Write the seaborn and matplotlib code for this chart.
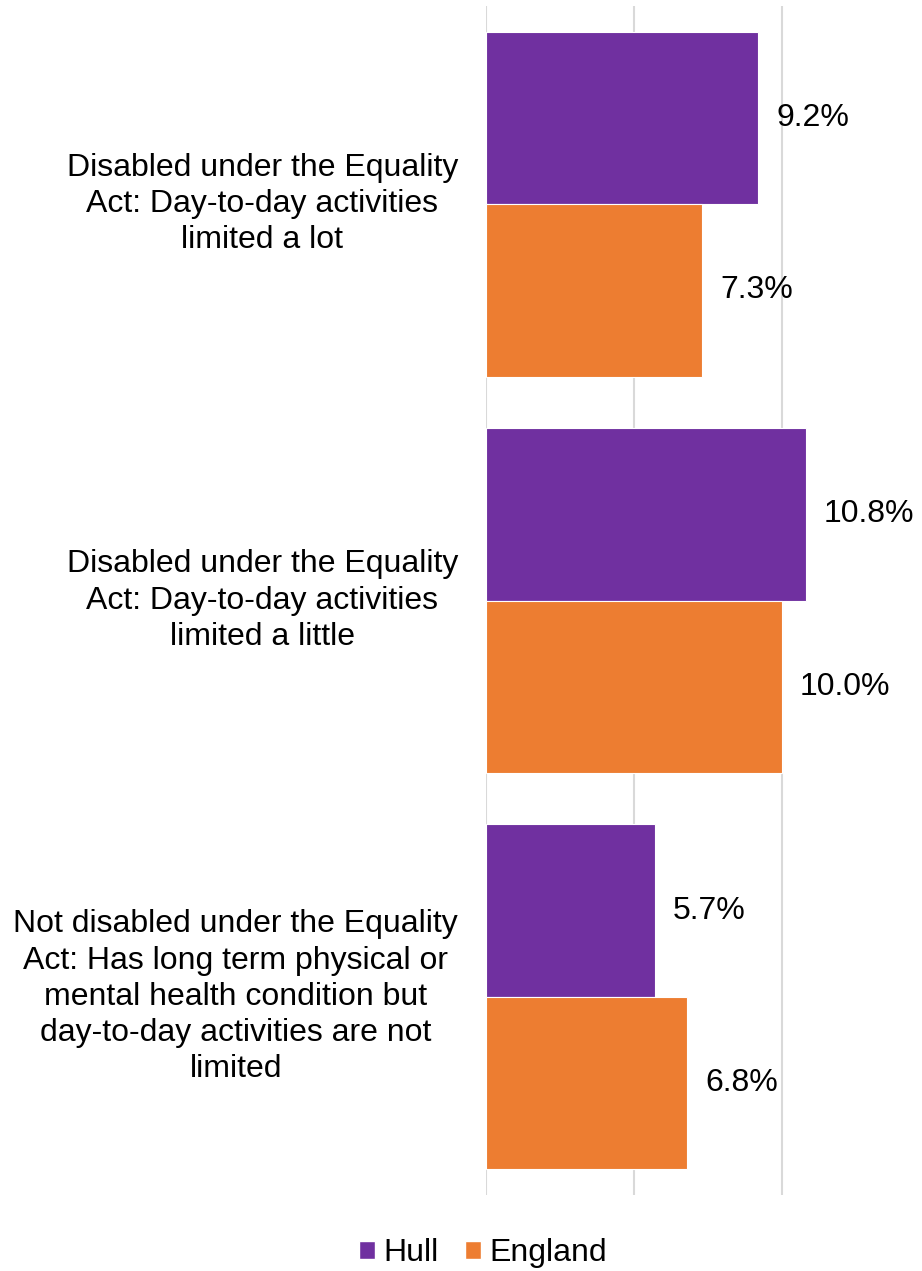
import pandas as pd
import matplotlib.pyplot as plt
import seaborn as sns
from matplotlib.patches import Patch

categories = [
    "Disabled under the Equality\nAct: Day-to-day activities\nlimited a lot",
    "Disabled under the Equality\nAct: Day-to-day activities\nlimited a little",
    "Not disabled under the Equality\nAct: Has long term physical or\nmental health condition but\nday-to-day activities are not\nlimited",
]
hull = [9.2, 10.8, 5.7]
england = [7.3, 10.0, 6.8]
series = ["Hull", "England"]
colors = {"Hull": "#7030A0", "England": "#ED7D31"}

df = pd.DataFrame({
    "category": categories * 2,
    "value": hull + england,
    "area": ["Hull"] * 3 + ["England"] * 3,
})

sns.set_theme(style="white")
plt.rcParams['font.family'] = ['Liberation Sans', 'DejaVu Sans']
plt.rcParams['text.color'] = '#000000'

fig = plt.figure(figsize=(9.22, 12.71), dpi=100)
ax = fig.add_axes([486 / 922, 76 / 1271, 1 - 486 / 922, 1189 / 1271])

sns.barplot(data=df, x="value", y="category", hue="area", hue_order=series,
            palette=colors, saturation=1, orient="h", width=0.87,
            edgecolor="white", linewidth=0.8, legend=False, ax=ax)

ax.set_xlim(0, 14.73)
ax.set_ylim(2.5, -0.5)
ax.set_xticks([0, 5, 10])
ax.xaxis.grid(True, color="#D9D9D9", linewidth=1.5)
ax.set_axisbelow(True)
ax.tick_params(axis="both", length=0, labelbottom=False, labelleft=False)
for s in ax.spines.values():
    s.set_visible(False)
ax.set_xlabel("")
ax.set_ylabel("")

for cont in ax.containers:
    ax.bar_label(cont, fmt="%.1f%%", padding=13, fontsize=23, color="#000000")

for i, cat in enumerate(categories):
    ax.text(-28 / 922 / (1 - 486 / 922), i, cat, transform=ax.get_yaxis_transform(),
            ha="right", va="center", multialignment="center", fontsize=23,
            linespacing=1.27, color="#000000")

handles = [Patch(facecolor=colors[s], label=s) for s in series]
fig.legend(handles=handles, loc="center", bbox_to_anchor=(483 / 922, 1 - 1253 / 1271),
           ncol=2, frameon=False, fontsize=23, handlelength=0.5, handleheight=0.5,
           handletextpad=0.25, columnspacing=0.85, labelcolor="#000000")

fig.savefig("out.png", dpi=100)
